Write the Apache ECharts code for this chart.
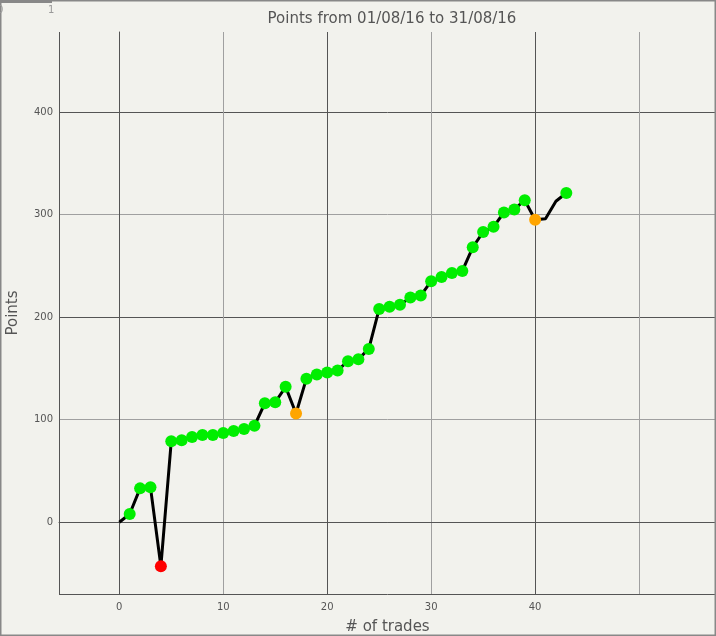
<!DOCTYPE html>
<html>
<head>
<meta charset="utf-8">
<script src="https://cdn.jsdelivr.net/npm/echarts@6/dist/echarts.min.js"></script>
<style>
  html, body { margin: 0; padding: 0; background: #f2f2ed; }
  #main { width: 716px; height: 636px; }
</style>
</head>
<body>
<div id="main"></div>
<script>
// 累计点数，下标就是交易序号
var points = [0, 8, 33, 34, -43, 79, 80, 83, 85, 85, 87, 89, 91, 94, 116, 117,
              132, 106, 140, 144, 146, 148, 157, 159, 169, 208, 210, 212, 219, 221,
              235, 239, 243, 245, 268, 283, 288, 302, 305, 314, 295, 296, 313, 321];
var lossTrades = [4];         // 红点
var flatTrades = [17, 40];    // 橙点
var noMarker = [0, 41, 42];   // 没有圆点
var xLabels = [0, 10, 20, 30, 40];
var yLabels = [0, 100, 200, 300, 400];

var font = 'DejaVu Sans';

// 点数据 + 每个点的颜色
var seriesData = points.map(function (v, i) {
    var color = '#00ee00';
    if (lossTrades.indexOf(i) >= 0) color = '#ff0000';
    if (flatTrades.indexOf(i) >= 0) color = '#ffa500';
    var item = { value: [i, v], itemStyle: { color: color } };
    if (noMarker.indexOf(i) >= 0) item.symbol = 'none';
    return item;
});

var myChart = echarts.init(document.getElementById('main'));

var option = {
    backgroundColor: '#f2f2ed',
    animation: false,
    title: {
        text: 'Points from 01/08/16 to 31/08/16',
        left: 387, top: 7, textAlign: 'center',
        textStyle: { fontFamily: font, fontSize: 15, fontWeight: 'normal', color: '#555' }
    },
    grid: { left: 59, right: 0, top: 32, bottom: 42, containLabel: false, outerBoundsMode: 'none' },
    xAxis: {
        type: 'value',
        min: -5.8, max: 57.4,
        minInterval: 10, maxInterval: 10,
        name: '# of trades', nameLocation: 'middle', nameGap: 26,
        nameTextStyle: { fontFamily: font, fontSize: 15, color: '#555' },
        axisLine: { show: true, lineStyle: { color: '#555', width: 1 } },
        axisTick: { show: false },
        axisLabel: {
            fontFamily: font, fontSize: 10, color: '#555', margin: 8,
            showMinLabel: false, showMaxLabel: false,
            formatter: function (v) { return xLabels.indexOf(v) >= 0 ? String(v) : ''; }
        },
        splitLine: {
            show: true,
            lineStyle: { color: ['#555', '#555', '#a0a0a0', '#555', '#a0a0a0', '#555', '#a0a0a0', '#888'], width: 1 }
        }
    },
    yAxis: {
        type: 'value',
        min: -70, max: 478,
        minInterval: 100, maxInterval: 100,
        name: 'Points', nameLocation: 'middle', nameGap: 38,
        nameTextStyle: { fontFamily: font, fontSize: 15, color: '#555' },
        axisLine: { show: true, lineStyle: { color: '#555', width: 1 } },
        axisTick: { show: false },
        axisLabel: {
            fontFamily: font, fontSize: 10, color: '#555', margin: 6,
            showMinLabel: false, showMaxLabel: false,
            formatter: function (v) { return yLabels.indexOf(v) >= 0 ? String(v) : ''; }
        },
        splitLine: {
            show: true,
            lineStyle: { color: ['#555', '#555', '#a0a0a0', '#555', '#a0a0a0', '#555', 'rgba(0,0,0,0)'], width: 1 }
        }
    },
    graphic: [
        // 左上角那个小标尺
        { type: 'line', shape: { x1: 0, y1: 1.5, x2: 52, y2: 1.5 }, style: { stroke: '#888', lineWidth: 3 }, z: 100 },
        { type: 'text', left: -3, top: 5, style: { text: '0', fontFamily: font, fontSize: 10, fill: '#999' }, z: 100 },
        { type: 'text', left: 48, top: 5, style: { text: '1', fontFamily: font, fontSize: 10, fill: '#999' }, z: 100 },
        // 外框
        { type: 'rect', shape: { x: 0.5, y: 0.5, width: 715, height: 635 },
          style: { fill: 'none', stroke: '#888', lineWidth: 2 }, z: 99 }
    ],
    series: [{
        type: 'line',
        data: seriesData,
        symbol: 'circle',
        symbolSize: 12,
        showAllSymbol: true,
        lineStyle: { color: '#000', width: 3 },
        z: 5
    }]
};

myChart.setOption(option);
</script>
</body>
</html>
